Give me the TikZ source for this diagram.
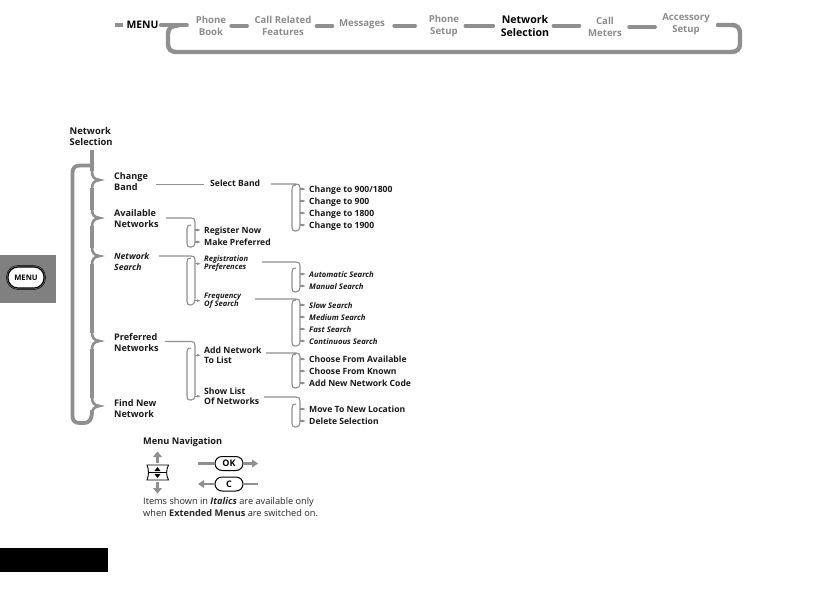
\documentclass[tikz,border=0pt]{standalone}
\usepackage{fontspec}
\setmainfont{Open Sans}
\usetikzlibrary{calc}
\definecolor{rail}{gray}{0.56}
\definecolor{dim}{gray}{0.55}
\definecolor{tabg}{gray}{0.5}
\tikzset{
  x=1pt,y=-1pt,
  lab/.style={anchor=west,inner sep=0pt,text height=8pt,text depth=1pt,font=\fontsize{8.6}{10}\selectfont\bfseries,text=black!90},
  ital/.style={lab,font=\fontsize{7.75}{10}\selectfont\bfseries\itshape},
  smallital/.style={lab,font=\fontsize{7.6}{8.6}\selectfont\bfseries\itshape,align=left,text height=,text depth=,yshift=-0.7pt},
  two/.style={lab,align=left,text height=,text depth=,yshift=-0.7pt},
  twoital/.style={ital,font=\fontsize{8.6}{10.4}\selectfont\bfseries\itshape,align=left,text height=,text depth=,yshift=-0.7pt},
  dimtop/.style={anchor=center,inner sep=0pt,align=center,text=dim,yshift=-0.7pt,font=\fontsize{9.6}{12}\selectfont\bfseries},
  dash bar/.style={draw=rail,line width=3.6pt,line cap=round},
  big rail/.style={draw=rail,line width=3.8pt},
  thin rail/.style={draw=rail,line width=1.1pt},
  nav/.style={draw=rail,line width=2.2pt},
  navtip/.style={fill=rail,draw=none},
  key/.style={draw=black,line width=1pt,rounded corners=7pt,minimum width=28pt,minimum height=14pt,inner sep=0pt,font=\fontsize{9}{10}\selectfont\bfseries},
}
% #1 start coordinate, #2 y0, #3 top of left rail, #4 bottom, #5 xL, #6 xR, #7 last tip y, #8 label node names
\newcommand\brk[8]{%
  \draw[thin rail] (#1) -- (#6-4,#2) .. controls (#6-1,#2) and (#6,#2+1) .. (#6,#2+4)
    -- (#6,#7) .. controls (#6,#4-1) and (#6-2,#4) .. (#6-4,#4)
    -- (#5+3,#4) .. controls (#5+1,#4) and (#5,#4-1) .. (#5,#4-4)
    -- (#5,#3+4) .. controls (#5,#3+1) and (#5+1,#3) .. (#5+4,#3);
  \foreach \n in {#8} {
    \draw[thin rail] ($(\n.west)+(-9,0)$) -- ($(\n.west)+(-6,0)$);
    \fill[rail] ($(\n.west)+(-7,-1.4)$) -- ($(\n.west)+(-3.5,0)$) -- ($(\n.west)+(-7,1.4)$) -- cycle;
  }
}
\begin{document}
\begin{tikzpicture}
\useasboundingbox (0,0) rectangle (836,590);
\fill[white] (0,0) rectangle (836,590);
% side tab and black bar
\node[fill=tabg,inner sep=0pt,minimum width=56pt,minimum height=48pt] (tab) at (28,279) {};
\node[fill=black,inner sep=0pt,minimum width=108pt,minimum height=24pt] (blk) at (54,560) {};
\node[draw=black,line width=1.1pt,fill=white,rounded corners=10pt,minimum width=36pt,minimum height=21pt,inner sep=0pt,font=\fontsize{7.6}{9}\selectfont\bfseries] (mbtn) at (26,277.5) {MENU};
\draw[black,line width=.5pt,rounded corners=11.5pt] (6.5,265.5) rectangle (45.5,289.5);

% top strip
\node[fill=rail,inner sep=0pt,minimum width=8pt,minimum height=3.5pt] (mk) at (119,25) {};
\node[anchor=center,inner sep=0pt,font=\fontsize{10.4}{12}\selectfont\bfseries] (menu) at (142.5,25) {MENU};
\node[dimtop] (t1) at (211,25) {Phone\\Book};
\node[dimtop] (t2) at (283,25) {Call Related\\Features};
\node[dimtop] (t3) at (362,24) {Messages};
\node[dimtop] (t4) at (444,25) {Phone\\Setup};
\node[dimtop,text=black,font=\fontsize{10.6}{13}\selectfont\bfseries] (t5) at (525,25.5) {Network\\Selection};
\node[dimtop] (t6) at (605,26) {Call\\Meters};
\node[dimtop] (t7) at (686,24) {Accessory\\Setup};
\draw[dash bar] (menu.east)++(2,0) -- (187,25);
\draw[dash bar] (t1.east)++(4.8,0) -- ++(16,0);
\draw[dash bar] (t2.east)++(4.8,0.5) -- ++(16,0);
\draw[dash bar] (t3.east)++(9,1) -- ++(21,0);
\draw[dash bar] (t4.east)++(6,0) -- ++(28,0);
\draw[dash bar] (t5.east)++(4,-0.5) -- ++(26,0);
\draw[dash bar] (t6.east)++(7,0.5) -- ++(26,0);
\coordinate (lpA) at (178,25.5);
\coordinate (lpB) at (718,25);
\draw[big rail,line width=4.4pt,line cap=round] (lpA) .. controls (172,25.5) and (168,28) .. (168,34)
  -- (168,44) .. controls (168,49) and (171,52) .. (176,52) -- (731,52)
  .. controls (737,52) and (740,49) .. (740,44) -- (740,33) .. controls (740,28) and (737,25) .. (732,25) -- (lpB);

% main tree
\node[two,font=\fontsize{9.4}{11.2}\selectfont\bfseries] (root) at (69.5,135.5) {Network\\Selection};
\node[two,font=\fontsize{9.1}{11.2}\selectfont\bfseries] (cb) at (114,180.5) {Change\\Band};
\node[two,font=\fontsize{9.1}{11.2}\selectfont\bfseries] (an) at (114,218) {Available\\Networks};
\node[twoital] (ns) at (114,261) {Network\\Search};
\node[two,font=\fontsize{9.1}{11.2}\selectfont\bfseries] (pn) at (114,341.5) {Preferred\\Networks};
\node[two,font=\fontsize{9.1}{11.2}\selectfont\bfseries] (fn) at (114,407.5) {Find New\\Network};
\coordinate (cbT) at (105,180); \coordinate (anT) at (105,218); \coordinate (nsT) at (105,256);
\coordinate (pnT) at (105,341); \coordinate (fnT) at (105,406);
\coordinate (rootS) at (92,150);
\draw[big rail] (rootS) -- (92,171);
\draw[big rail] (92,188) -- (92,210);
\draw[big rail] (92,226) -- (92,248);
\draw[big rail] (92,264) -- (92,333);
\draw[big rail] (92,349) -- (92,398);
\foreach \t/\y in {cbT/180,anT/218,nsT/256,pnT/341,fnT/406}{
  \draw[big rail,line width=2.6pt] (92,\y-9) .. controls (92,\y-3) and (94,\y-1) .. (99,\y)
     .. controls (94,\y+1) and (92,\y+3) .. (92,\y+9);
  \fill[rail] (96,\y-2) -- (\t) -- (96,\y+2) -- cycle;
}
\coordinate (lpC) at (92,165.5);
\coordinate (lpD) at (92,410);
\draw[big rail] (lpC) -- (80,165.5) .. controls (75,165.5) and (72.5,168) .. (72.5,173)
  -- (72.5,416) .. controls (72.5,421) and (75,423) .. (80,423) -- (84,423)
  .. controls (89,423) and (92,420) .. (lpD);

% second level
\node[lab] (sb) at (210,183) {Select Band};
\node[lab] (rn) at (204,230) {Register Now};
\node[lab] (mp) at (204,242) {Make Preferred};
\node[smallital] (rp) at (204,263) {Registration\\Preferences};
\node[smallital] (fs) at (204,300) {Frequency\\Of Search};
\node[two,font=\fontsize{8.7}{9.8}\selectfont\bfseries] (al) at (204,354.5) {Add Network\\To List};
\node[two,font=\fontsize{8.7}{9.8}\selectfont\bfseries] (sl) at (204,395.5) {Show List\\Of Networks};
\coordinate (cbE) at (156,184.5);
\coordinate (sbW) at (204,184.5);
\draw[thin rail] (cbE) -- (sbW);
\coordinate (anE) at (166,218);
\coordinate (nsE) at (159,256);
\coordinate (pnE) at (165,341.5);
\brk{anE}{218}{225}{247}{187}{195}{242}{rn,mp}
\brk{nsE}{256}{258}{305}{187}{195}{297}{rp,fs}
\brk{pnE}{341.5}{348}{400}{187}{195}{395}{al,sl}

% third level
\node[lab] (c1) at (309,189) {Change to 900/1800};
\node[lab] (c2) at (309,201) {Change to 900};
\node[lab] (c3) at (309,213) {Change to 1800};
\node[lab] (c4) at (309,225) {Change to 1900};
\node[ital] (a1) at (309,274) {Automatic Search};
\node[ital] (a2) at (309,286) {Manual Search};
\node[ital] (s1) at (309,305) {Slow Search};
\node[ital] (s2) at (309,317) {Medium Search};
\node[ital] (s3) at (309,329) {Fast Search};
\node[ital] (s4) at (309,341) {Continuous Search};
\node[lab] (n1) at (309,359) {Choose From Available};
\node[lab] (n2) at (309,371) {Choose From Known};
\node[lab] (n3) at (309,383) {Add New Network Code};
\node[lab] (m1) at (309,409) {Move To New Location};
\node[lab] (m2) at (309,421) {Delete Selection};
\coordinate (sbE) at (271,184);
\coordinate (rpE) at (262,262);
\coordinate (fsE) at (255,299);
\coordinate (alE) at (266,353);
\coordinate (slE) at (264,397);
\brk{sbE}{184}{185}{231}{292}{300}{225}{c1,c2,c3,c4}
\brk{rpE}{262}{268}{292}{292}{300}{286}{a1,a2}
\brk{fsE}{299}{300}{346}{292}{300}{341}{s1,s2,s3,s4}
\brk{alE}{353}{354}{388}{292}{300}{383}{n1,n2,n3}
\brk{slE}{397}{404}{427}{292}{300}{421}{m1,m2}

% navigation legend
\node[lab,font=\fontsize{9.2}{10}\selectfont\bfseries] (mn) at (143,441) {Menu Navigation};
\node[draw=none,minimum width=22pt,minimum height=15pt,inner sep=0pt] (nv) at (157.5,472.5) {};
\draw[black,line width=.9pt] (147,465) -- (168.5,465) .. controls (166,470) and (166,475) .. (168.5,480)
  -- (147,480) .. controls (149,475) and (149,470) .. (147,465) -- cycle;
\draw[black,line width=.5pt] (149,472.5) -- (166,472.5);
\fill[black] (154.5,471) -- (157.5,467) -- (160.5,471) -- cycle;
\fill[black] (154.5,474) -- (157.5,478) -- (160.5,474) -- cycle;
\draw[nav] (nv.north) ++(0,-2) -- ++(0,-7);
\draw[nav] (nv.south) ++(0,2) -- ++(0,7);
\fill[navtip] (153,457) -- (157.5,451.5) -- (162,457) -- cycle;
\fill[navtip] (153,488) -- (157.5,493.5) -- (162,488) -- cycle;
\node[key] (ok) at (229,463.5) {OK};
\node[key] (cc) at (229,484) {C};
\coordinate (okL) at (198,463.5);
\coordinate (okR) at (252,463.5);
\coordinate (cL) at (204,484);
\coordinate (cR) at (258,484);
\draw[nav] (okL) -- (ok.west);
\draw[nav] (ok.east) -- (okR);
\fill[navtip] (252,459.5) -- (258,463.5) -- (252,467.5) -- cycle;
\draw[nav] (cc.west) -- (cL);
\draw[nav] (cc.east) -- (cR);
\fill[navtip] (204,480) -- (198,484) -- (204,488) -- cycle;
\node[anchor=west,inner sep=0pt,align=left,font=\fontsize{9.2}{11.9}\selectfont,text=black!85] (nt) at (143,507.5) {Items shown in \textbf{\textit{Italics}} are available only\\when \textbf{Extended Menus} are switched on.};
\end{tikzpicture}
\end{document}
